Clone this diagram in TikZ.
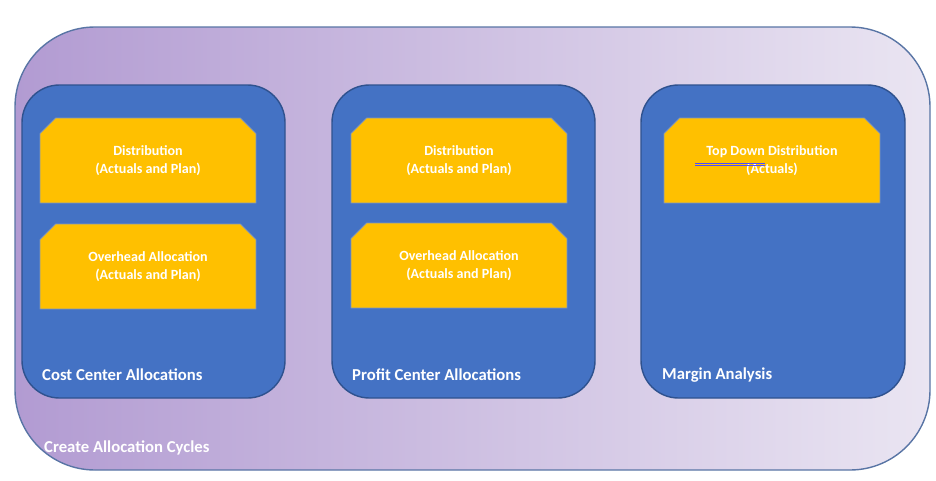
\documentclass[tikz,border=0pt]{standalone}
\usepackage{fontspec}
\setmainfont{Carlito}
\usetikzlibrary{shapes.misc}
\definecolor{panelblue}{HTML}{4472C4}
\definecolor{paneledge}{HTML}{2F528F}
\definecolor{boxyellow}{HTML}{FFC000}
\definecolor{lilacL}{HTML}{B29BD2}
\definecolor{lilacR}{HTML}{EAE5F2}
\tikzset{
  cycle/.style={draw=paneledge!80, line width=0.8pt, rounded corners=1.6cm, left color=lilacL, right color=lilacR},
  panel/.style={draw=paneledge, line width=0.8pt, fill=panelblue, rounded corners=0.75cm},
  allocbox/.style={chamfered rectangle, chamfered rectangle corners={north west,north east},
    chamfered rectangle xsep=0.2cm, draw=paneledge!60, fill=boxyellow, text=white,
    font=\fontsize{8}{10}\selectfont\bfseries, align=center,
    minimum width=4.32cm, minimum height=1.7cm, inner sep=0pt},
  caption/.style={text=white, font=\fontsize{9.5}{11}\selectfont\bfseries, anchor=west}
}
\begin{document}
\begin{tikzpicture}[x=0.02cm,y=-0.02cm]
\useasboundingbox (0,0) rectangle (936,480);
% outer cycle
\draw[cycle] (15,27) rectangle (930,470);
\node[caption] (cyc) at (38,448) {Create Allocation Cycles};
% panels
\draw[panel] (22,85) rectangle (285,398);
\draw[panel] (332,85) rectangle (595,398);
\draw[panel] (641,85) rectangle (905,398);
\node[caption] (cc) at (36,375) {Cost Center Allocations};
\node[caption] (pc) at (346,375) {Profit Center Allocations};
\node[caption] (ma) at (656,375) {Margin Analysis};
% boxes
\node[allocbox] (ccd) at (148,160.5) {Distribution\\(Actuals and Plan)};
\node[allocbox] (cco) at (148,266.5) {Overhead Allocation\\(Actuals and Plan)};
\node[allocbox] (pcd) at (459,160.5) {Distribution\\(Actuals and Plan)};
\node[allocbox] (pco) at (459,265.5) {Overhead Allocation\\(Actuals and Plan)};
\node[allocbox] (mad) at (772,160.5) {Top Down Distribution\\(Actuals)};
\draw[blue!70, line width=0.5pt] (695,163) -- (765,163) (695,165.5) -- (765,165.5);
\end{tikzpicture}
\end{document}
